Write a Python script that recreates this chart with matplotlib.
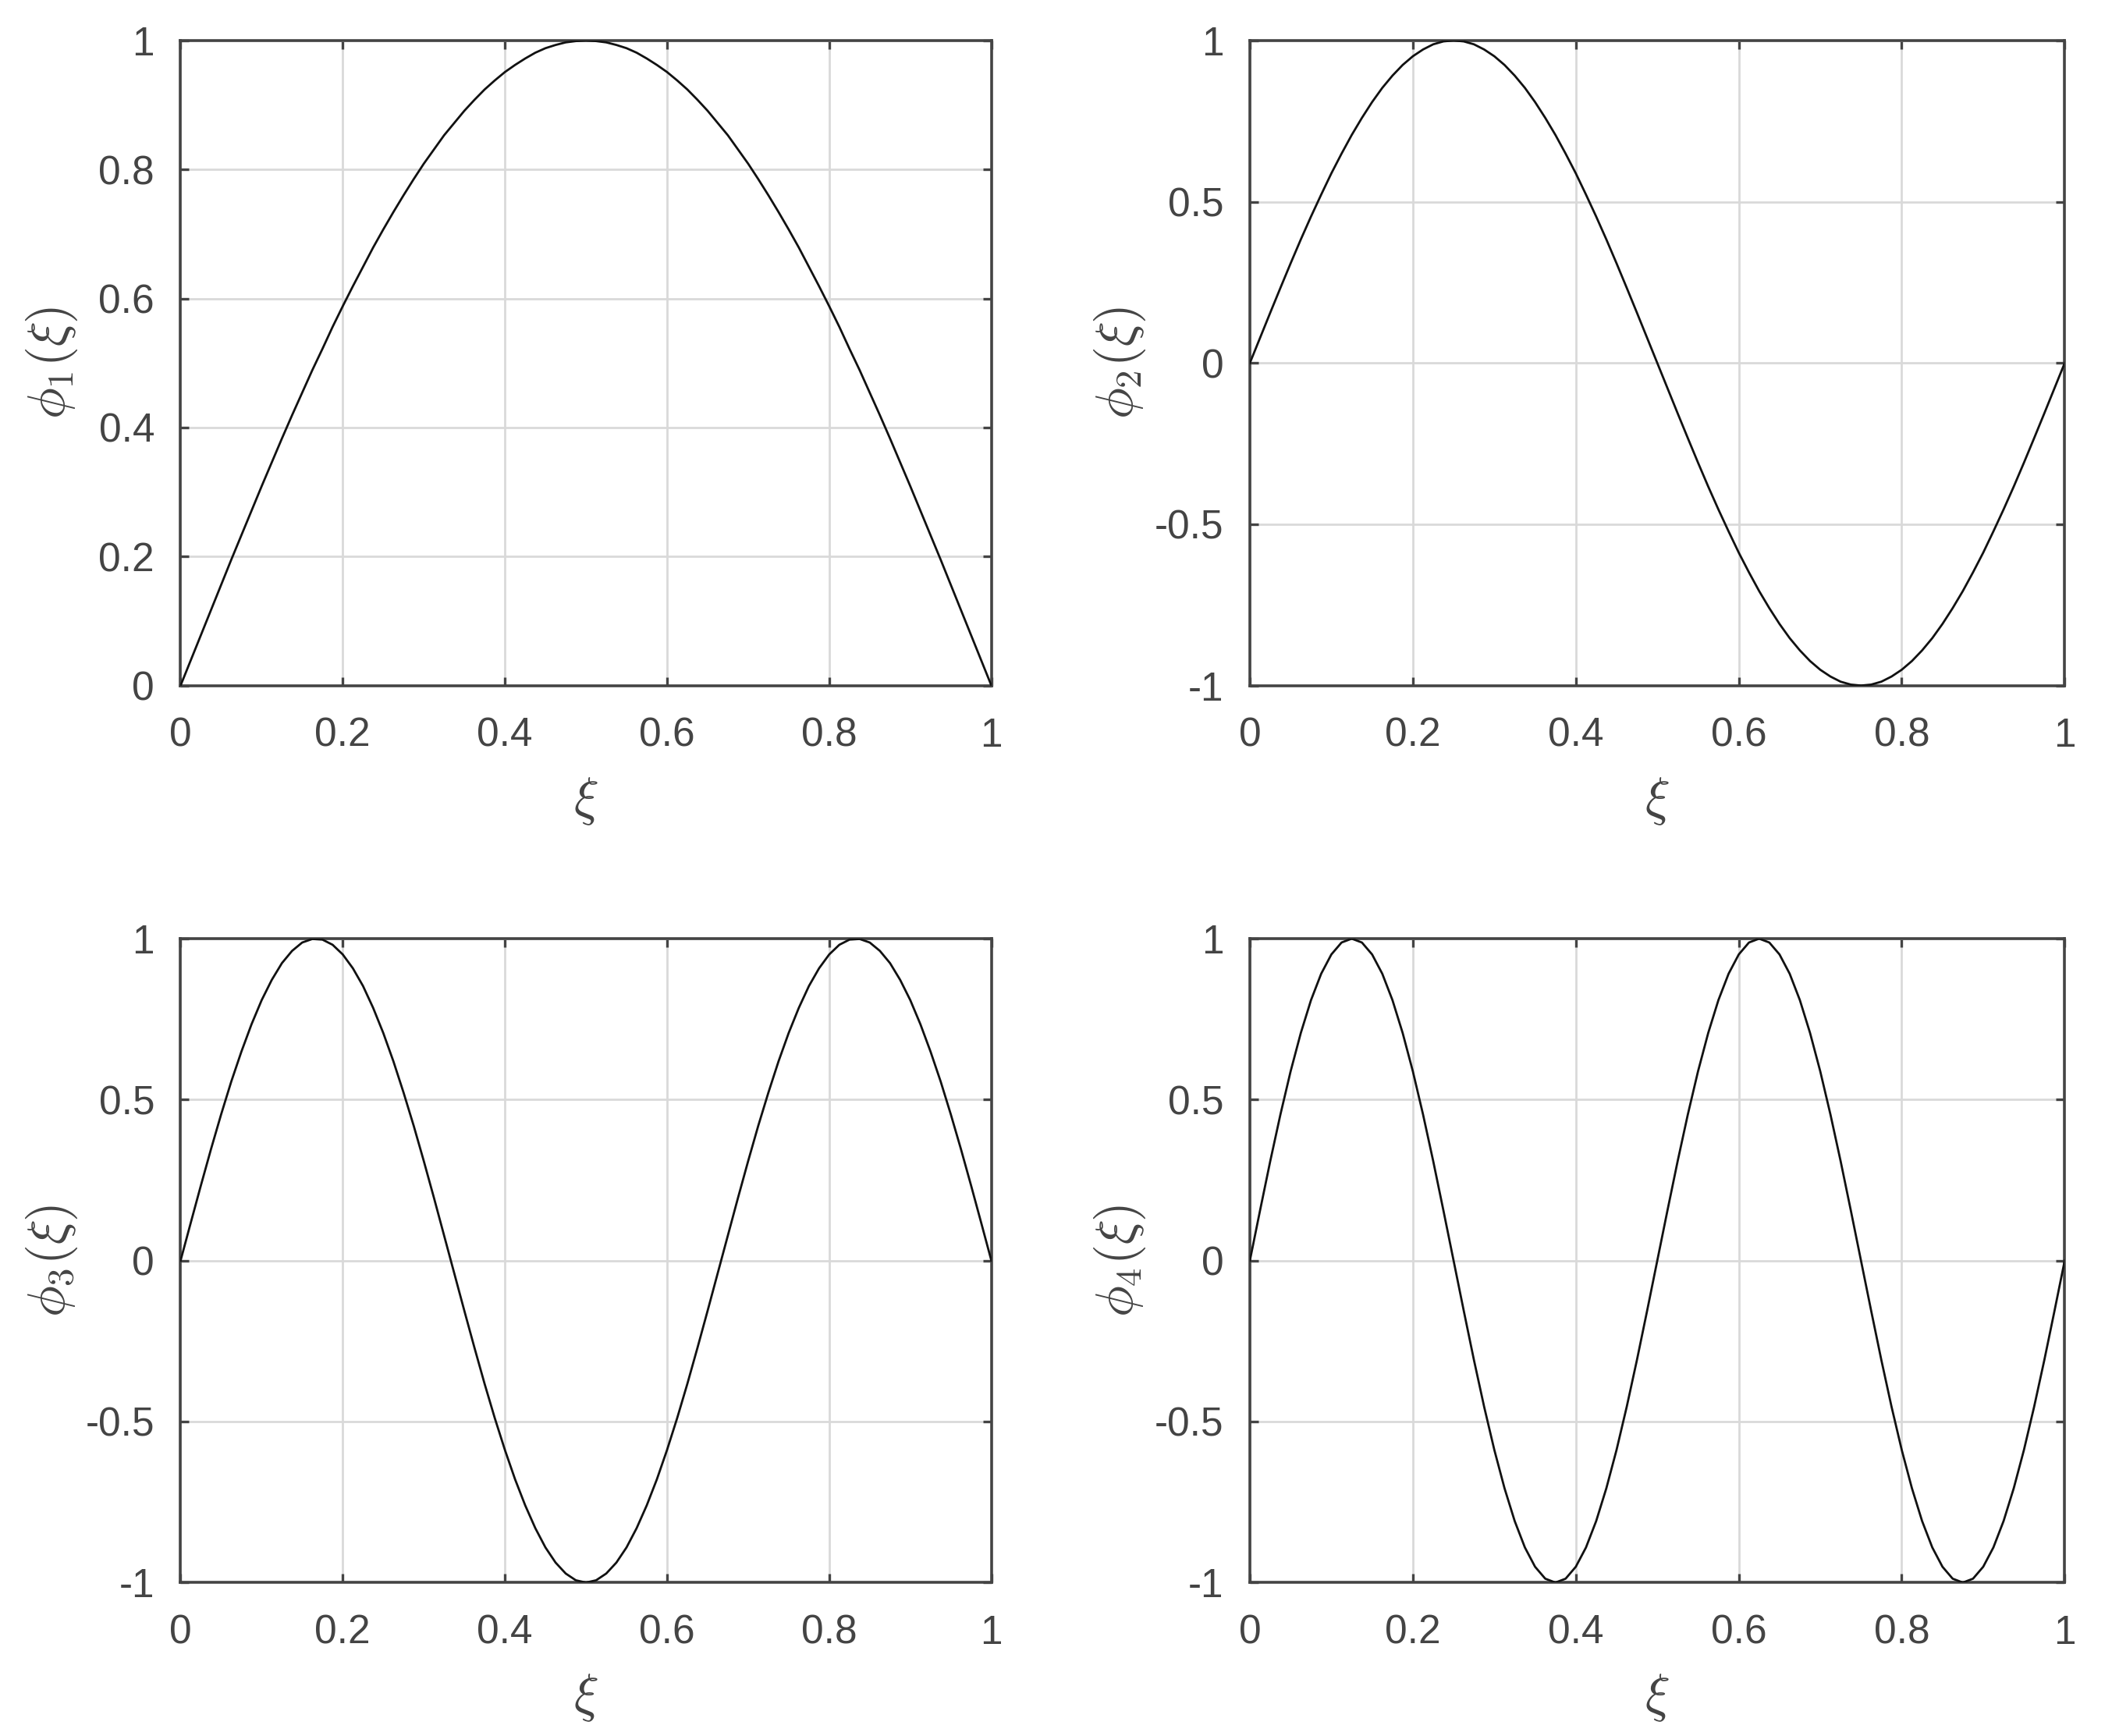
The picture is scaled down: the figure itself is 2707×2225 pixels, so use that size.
import matplotlib
matplotlib.use('Agg')
import matplotlib.pyplot as plt

# --- data (xi on a 1/80 grid) ---
xi = [k / 80 for k in range(81)]

phi1 = [0.000, 0.039, 0.078, 0.117, 0.156, 0.195, 0.233, 0.271, 0.309, 0.346,
        0.383, 0.419, 0.454, 0.489, 0.522, 0.556, 0.588, 0.619, 0.649, 0.679,
        0.707, 0.734, 0.760, 0.785, 0.809, 0.831, 0.853, 0.872, 0.891, 0.908,
        0.924, 0.938, 0.951, 0.962, 0.972, 0.981, 0.988, 0.993, 0.997, 0.999,
        1.000,
        0.999, 0.997, 0.993, 0.988, 0.981, 0.972, 0.962, 0.951, 0.938, 0.924,
        0.908, 0.891, 0.872, 0.853, 0.831, 0.809, 0.785, 0.760, 0.734, 0.707,
        0.679, 0.649, 0.619, 0.588, 0.556, 0.522, 0.489, 0.454, 0.419, 0.383,
        0.346, 0.309, 0.271, 0.233, 0.195, 0.156, 0.117, 0.078, 0.039, 0.000]

phi2 = [0.000, 0.078, 0.156, 0.233, 0.309, 0.383, 0.454, 0.522, 0.588, 0.649,
        0.707, 0.760, 0.809, 0.853, 0.891, 0.924, 0.951, 0.972, 0.988, 0.997,
        1.000, 0.997, 0.988, 0.972, 0.951, 0.924, 0.891, 0.853, 0.809, 0.760,
        0.707, 0.649, 0.588, 0.522, 0.454, 0.383, 0.309, 0.233, 0.156, 0.078,
        0.000,
        -0.078, -0.156, -0.233, -0.309, -0.383, -0.454, -0.522, -0.588, -0.649,
        -0.707, -0.760, -0.809, -0.853, -0.891, -0.924, -0.951, -0.972, -0.988,
        -0.997, -1.000, -0.997, -0.988, -0.972, -0.951, -0.924, -0.891, -0.853,
        -0.809, -0.760, -0.707, -0.649, -0.588, -0.522, -0.454, -0.383, -0.309,
        -0.233, -0.156, -0.078, 0.000]

phi3 = [0.000, 0.117, 0.233, 0.346, 0.454, 0.556, 0.649, 0.734, 0.809, 0.872,
        0.924, 0.962, 0.988, 0.999, 0.997, 0.981, 0.951, 0.908, 0.853, 0.785,
        0.707, 0.619, 0.522, 0.419, 0.309, 0.195, 0.078, -0.039, -0.156, -0.271,
        -0.383, -0.489, -0.588, -0.679, -0.760, -0.831, -0.891, -0.938, -0.972,
        -0.993, -1.000,
        -0.993, -0.972, -0.938, -0.891, -0.831, -0.760, -0.679, -0.588, -0.489,
        -0.383, -0.271, -0.156, -0.039, 0.078, 0.195, 0.309, 0.419, 0.522,
        0.619, 0.707, 0.785, 0.853, 0.908, 0.951, 0.981, 0.997, 0.999, 0.988,
        0.962, 0.924, 0.872, 0.809, 0.734, 0.649, 0.556, 0.454, 0.346, 0.233,
        0.117, 0.000]

phi4 = [0.000, 0.156, 0.309, 0.454, 0.588, 0.707, 0.809, 0.891, 0.951, 0.988,
        1.000, 0.988, 0.951, 0.891, 0.809, 0.707, 0.588, 0.454, 0.309, 0.156,
        0.000, -0.156, -0.309, -0.454, -0.588, -0.707, -0.809, -0.891, -0.951,
        -0.988, -1.000, -0.988, -0.951, -0.891, -0.809, -0.707, -0.588, -0.454,
        -0.309, -0.156, 0.000,
        0.156, 0.309, 0.454, 0.588, 0.707, 0.809, 0.891, 0.951, 0.988,
        1.000, 0.988, 0.951, 0.891, 0.809, 0.707, 0.588, 0.454, 0.309, 0.156,
        0.000, -0.156, -0.309, -0.454, -0.588, -0.707, -0.809, -0.891, -0.951,
        -0.988, -1.000, -0.988, -0.951, -0.891, -0.809, -0.707, -0.588, -0.454,
        -0.309, -0.156, 0.000]

x_ticks = [0, 0.2, 0.4, 0.6, 0.8, 1]
x_ticklabels = ['0', '0.2', '0.4', '0.6', '0.8', '1']
y_ticks_pos = [0, 0.2, 0.4, 0.6, 0.8, 1]
y_ticklabels_pos = ['0', '0.2', '0.4', '0.6', '0.8', '1']
y_ticks_sym = [-1, -0.5, 0, 0.5, 1]
y_ticklabels_sym = ['-1', '-0.5', '0', '0.5', '1']

ylabels = [r'$\phi_1(\xi)$', r'$\phi_2(\xi)$', r'$\phi_3(\xi)$', r'$\phi_4(\xi)$']

# --- style ---
plt.rcParams['font.family'] = ['Liberation Sans', 'DejaVu Sans']
plt.rcParams['mathtext.fontset'] = 'cm'
plt.rcParams['axes.unicode_minus'] = False
TXT = '#444444'

fig = plt.figure(figsize=(27.07, 22.25), dpi=100)

# axes boxes [left, bottom, width, height] in figure fraction
boxes = [[0.0855, 0.6051, 0.3839, 0.3716],
         [0.5918, 0.6051, 0.3858, 0.3716],
         [0.0855, 0.0884, 0.3839, 0.3709],
         [0.5918, 0.0884, 0.3858, 0.3709]]

series = [phi1, phi2, phi3, phi4]

for i, (box, ys) in enumerate(zip(boxes, series)):
    ax = fig.add_axes(box)
    ax.plot(xi, ys, color='#111111', lw=2.0, zorder=3)
    ax.set_xlim(0, 1)
    if i == 0:
        ax.set_ylim(0, 1)
        ax.set_yticks(y_ticks_pos)
        ax.set_yticklabels(y_ticklabels_pos)
    else:
        ax.set_ylim(-1, 1)
        ax.set_yticks(y_ticks_sym)
        ax.set_yticklabels(y_ticklabels_sym)
    ax.set_xticks(x_ticks)
    ax.set_xticklabels(x_ticklabels)

    ax.grid(True, color='#d9d9d9', lw=2.0, zorder=0)
    ax.set_axisbelow(True)
    for s in ax.spines.values():
        s.set_color(TXT)
        s.set_linewidth(2.6)
    ax.tick_params(direction='in', length=8, width=2.4, color=TXT,
                   labelcolor=TXT, labelsize=37, top=True, right=True)
    ax.tick_params(axis='x', pad=29)
    ax.tick_params(axis='y', pad=24)

    ax.set_xlabel(r'$\xi$', fontsize=48, color=TXT)
    ax.set_ylabel(ylabels[i], fontsize=48, color=TXT)
    ax.xaxis.set_label_coords(0.5, -0.14)
    ax.yaxis.set_label_coords(-0.125, 0.5)

fig.savefig('out.png', dpi=100, facecolor='white')
